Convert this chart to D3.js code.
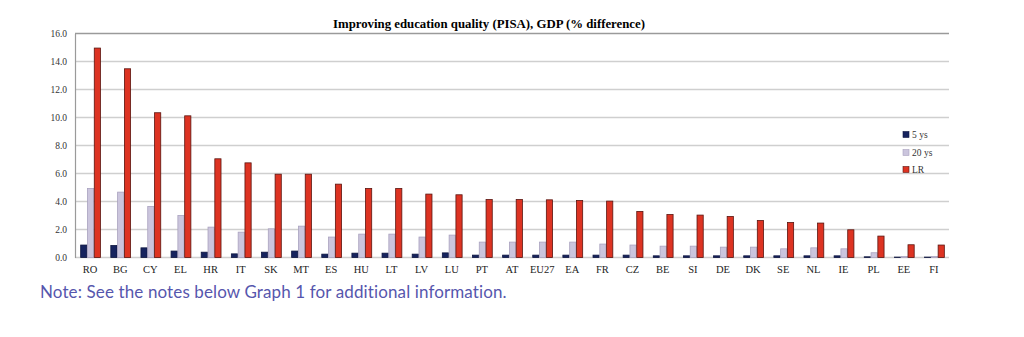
<!DOCTYPE html>
<html><head><meta charset="utf-8">
<script src="https://cdn.jsdelivr.net/npm/d3@7"></script>
<style>html,body{margin:0;padding:0;background:#fff;}</style>
</head><body>
<svg id="c" width="1024" height="337"></svg>
<script>
const categories = ["RO","BG","CY","EL","HR","IT","SK","MT","ES","HU","LT","LV","LU","PT","AT","EU27","EA","FR","CZ","BE","SI","DE","DK","SE","NL","IE","PL","EE","FI"];
const series5 = [0.89,0.86,0.69,0.46,0.38,0.26,0.38,0.46,0.24,0.31,0.31,0.24,0.33,0.17,0.17,0.17,0.17,0.17,0.17,0.12,0.12,0.12,0.12,0.12,0.12,0.12,0.05,0.03,0.03];
const series20 = [4.93,4.67,3.64,3.0,2.17,1.81,2.05,2.24,1.46,1.67,1.67,1.46,1.6,1.1,1.1,1.1,1.1,0.96,0.89,0.81,0.81,0.74,0.74,0.62,0.69,0.62,0.34,0.07,0.07];
const seriesLR = [14.96,13.48,10.34,10.12,7.05,6.76,5.95,5.95,5.24,4.93,4.93,4.53,4.48,4.14,4.14,4.12,4.07,4.03,3.29,3.07,3.03,2.93,2.64,2.5,2.46,1.98,1.53,0.91,0.89];
const seriesNames = ["5 ys","20 ys","LR"];
const yTicks = [0,2,4,6,8,10,12,14,16];
const title = "Improving education quality (PISA), GDP (% difference)";
const note = "Note: See the notes below Graph 1 for additional information.";

const colors = ["#16235e","#cbc5dd","#dd3322"];
const strokes = ["#0e1640","#a9a2bf","#5a1510"];

const svg = d3.select("#c");
const L = 75, R = 949, T = 33.5, B = 257.5;
const x = d3.scaleBand().domain(categories).range([L, R]).paddingInner(0).paddingOuter(0.0);
const y = d3.scaleLinear().domain([0,16]).range([B, T]);
const sub = d3.scaleBand().domain(seriesNames).range([0, 20.4]);

// gridlines
svg.append("g").selectAll("line").data(yTicks).join("line")
  .attr("x1", L).attr("x2", R)
  .attr("y1", d => y(d)).attr("y2", d => y(d))
  .attr("stroke", d => d===16 ? "#9a9a9a" : "#cfcfcf").attr("stroke-width", 1.3);

// y axis
const yAxis = d3.axisLeft(y).tickValues(yTicks).tickFormat(d3.format(".1f")).tickSize(0).tickPadding(8);
const ga = svg.append("g").attr("transform", `translate(${L},0)`).call(yAxis);
ga.select(".domain").attr("stroke", "#9a9a9a").attr("stroke-width", 1.2);
ga.selectAll("text").attr("font-family", "Liberation Serif, DejaVu Serif, serif").attr("font-size", 9.5).attr("fill", "#333");

// bars
const all = [series5, series20, seriesLR];
const groups = svg.append("g");
all.forEach((vals, si) => {
  groups.append("g").selectAll("rect").data(vals).join("rect")
    .attr("x", (d,i) => x(categories[i]) + x.bandwidth()/2 - 10.2 + 0.8 + sub(seriesNames[si]))
    .attr("width", sub.bandwidth() - 0.6)
    .attr("y", d => y(d))
    .attr("height", d => B - y(d))
    .attr("fill", colors[si])
    .attr("stroke", strokes[si]).attr("stroke-width", 0.8);
});

// x axis labels
const xAxis = d3.axisBottom(x).tickSize(0).tickPadding(8);
const gx = svg.append("g").attr("transform", `translate(0,${B})`).call(xAxis);
gx.select(".domain").remove();
gx.selectAll("text").attr("font-family", "Liberation Serif, DejaVu Serif, serif").attr("font-size", 10.5).attr("fill", "#222");

// title
svg.append("text").attr("x", 489).attr("y", 28).attr("text-anchor", "middle")
  .attr("font-family", "Liberation Serif, DejaVu Serif, serif").attr("font-weight", "bold")
  .attr("font-size", 12.8).attr("fill", "#000").text(title);

// legend
const legY = [134.5, 152.5, 169.5];
const lg = svg.append("g");
seriesNames.forEach((n, i) => {
  lg.append("rect").attr("x", 903).attr("y", legY[i]-3).attr("width", 6).attr("height", 6)
    .attr("fill", colors[i]).attr("stroke", strokes[i]).attr("stroke-width", 0.6);
  lg.append("text").attr("x", 912).attr("y", legY[i]+3.2)
    .attr("font-family", "Liberation Serif, DejaVu Serif, serif").attr("font-size", 9.5).attr("fill", "#333").text(n);
});

// note
svg.append("text").attr("x", 40).attr("y", 298)
  .attr("font-family", "Lato, 'Open Sans', sans-serif").attr("font-size", 17).attr("letter-spacing", 0.12).attr("fill", "#5656ad")
  .text(note);
</script>
</body></html>
